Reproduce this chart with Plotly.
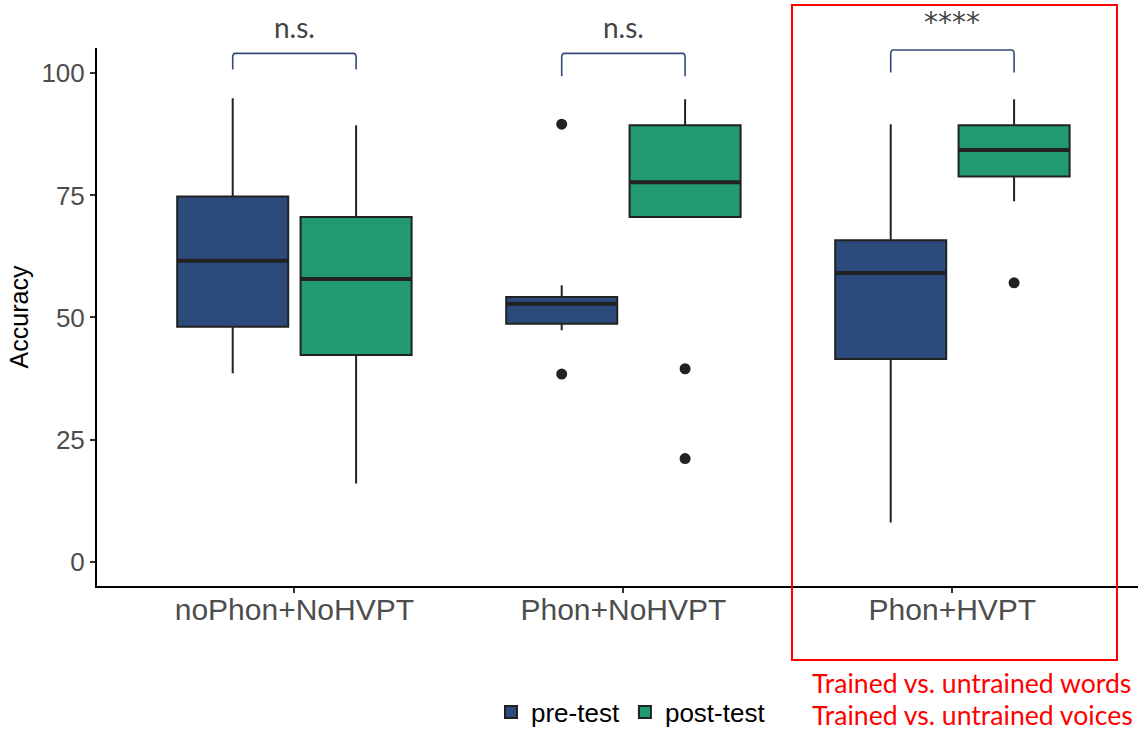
import plotly.graph_objects as go

# ---------------- data ----------------
groups = ["noPhon+NoHVPT", "Phon+NoHVPT", "Phon+HVPT"]
group_pos = [1, 2, 3]

pre_q1 = [48.1, 48.7, 41.5]
pre_median = [61.6, 52.8, 59.1]
pre_q3 = [74.8, 54.2, 65.8]
pre_lower = [38.6, 47.4, 8.0]
pre_upper = [94.9, 56.6, 89.6]
pre_outliers = [[], [89.6, 38.4], []]

post_q1 = [42.3, 70.6, 78.9]
post_median = [57.9, 77.7, 84.3]
post_q3 = [70.6, 89.4, 89.4]
post_lower = [16.0, 70.6, 73.8]
post_upper = [89.4, 94.7, 94.7]
post_outliers = [[], [39.5, 21.1], [57.1]]

sig_labels = ["n.s.", "n.s.", "****"]
bracket_top = [104.1, 104.1, 104.8]
bracket_tip = [100.8, 99.4, 100.2]

y_ticks = [0, 25, 50, 75, 100]
note_lines = ["Trained vs. untrained words", "Trained vs. untrained voices"]

# ---------------- styling ----------------
PRE_COLOR = "#2c4a7b"
POST_COLOR = "#229a6f"
EDGE = "#222222"
BOXGAP = 0.25
BOXGROUPGAP = 0.1
slot = (1 - BOXGAP) / 2
offset = slot / 2
half_box = slot * (1 - BOXGROUPGAP) / 2

W, H = 1138, 730
L, R, T, B = 97, 1138, 48, 586


def px_x(p):
    return (p - L) / (R - L)


def px_y(p):
    return (B - p) / (B - T)


fig = go.Figure()

for name, color, q1, med, q3, lo, hi in [
    ("pre-test", PRE_COLOR, pre_q1, pre_median, pre_q3, pre_lower, pre_upper),
    ("post-test", POST_COLOR, post_q1, post_median, post_q3, post_lower, post_upper),
]:
    fig.add_trace(go.Box(
        x=group_pos, q1=q1, median=med, q3=q3, lowerfence=lo, upperfence=hi,
        name=name, fillcolor=color, line=dict(color=EDGE, width=2),
        boxpoints=False, whiskerwidth=0, hoverinfo="skip",
    ))

# thicker median lines (ggplot style)
for med, sign in [(pre_median, -1), (post_median, 1)]:
    xs, ys = [], []
    for pos, m in zip(group_pos, med):
        c = pos + sign * offset
        xs += [c - half_box, c + half_box, None]
        ys += [m, m, None]
    fig.add_trace(go.Scatter(x=xs, y=ys, mode="lines", showlegend=False,
                             line=dict(color=EDGE, width=4), hoverinfo="skip"))

# outliers
for outs, sign in [(pre_outliers, -1), (post_outliers, 1)]:
    xs, ys = [], []
    for pos, vals in zip(group_pos, outs):
        for v in vals:
            xs.append(pos + sign * offset)
            ys.append(v)
    fig.add_trace(go.Scatter(
        x=xs, y=ys, mode="markers", showlegend=False,
        marker=dict(color=EDGE, size=11), hoverinfo="skip",
    ))

# significance brackets
shapes = []
annotations = []
for pos, top, tip, lab in zip(group_pos, bracket_top, bracket_tip, sig_labels):
    x1 = pos - offset
    x2 = pos + offset
    r_x = 0.008
    r_y = 0.8
    path = (f"M {x1},{tip} L {x1},{top - r_y} Q {x1},{top} {x1 + r_x},{top} "
            f"L {x2 - r_x},{top} Q {x2},{top} {x2},{top - r_y} L {x2},{tip}")
    shapes.append(dict(type="path", path=path, xref="x", yref="y",
                       line=dict(color="#34487a", width=1.6)))
    if lab.startswith("*"):
        fnt = dict(family="DejaVu Sans", size=28, color="#444444")
        ys = 9
    else:
        fnt = dict(family="Lato", size=28, color="#444444")
        ys = 7
    annotations.append(dict(x=pos, y=top, xref="x", yref="y", text=lab,
                            showarrow=False, yanchor="bottom", yshift=ys, font=fnt))

# red highlight box
shapes.append(dict(type="rect", xref="paper", yref="paper",
                   x0=px_x(792), x1=px_x(1117), y0=px_y(660), y1=px_y(5),
                   line=dict(color="#ff0000", width=2), fillcolor="rgba(0,0,0,0)"))

for line, py in zip(note_lines, [683, 715]):
    annotations.append(dict(x=px_x(810), y=px_y(py), xref="paper", yref="paper",
                            text=line, showarrow=False, xanchor="left", yanchor="middle",
                            font=dict(family="Lato", size=26.6, color="#ff0000")))

fig.update_layout(
    width=W, height=H,
    margin=dict(l=L, r=W - R, t=T, b=H - B, pad=0, autoexpand=False),
    plot_bgcolor="white", paper_bgcolor="white",
    boxmode="group", boxgap=BOXGAP, boxgroupgap=BOXGROUPGAP,
    font=dict(family="Arial, Liberation Sans, sans-serif"),
    shapes=shapes, annotations=annotations,
    legend=dict(orientation="h", x=px_x(631), xanchor="center",
                y=px_y(712), yanchor="middle",
                font=dict(size=26, color="#000000"), bgcolor="rgba(0,0,0,0)"),
    xaxis=dict(range=[0.4, 0.4 + (R - L) / 329.0], tickvals=group_pos, ticktext=groups,
               showline=True, linecolor="#000000", linewidth=2,
               ticks="outside", ticklen=5, tickwidth=1.5, tickcolor="#333333",
               showgrid=False, zeroline=False, ticklabelstandoff=-9,
               tickfont=dict(size=30, color="#4d4d4d")),
    yaxis=dict(range=[-5, 105.2], tickvals=y_ticks,
               showline=True, linecolor="#000000", linewidth=2,
               ticks="outside", ticklen=5, tickwidth=1.5, tickcolor="#333333",
               showgrid=False, zeroline=False,
               tickfont=dict(size=26, color="#4d4d4d"),
               title=dict(text="Accuracy", font=dict(size=25, color="#000000"), standoff=6),
               automargin=False),
)

fig.write_html("out.html")
